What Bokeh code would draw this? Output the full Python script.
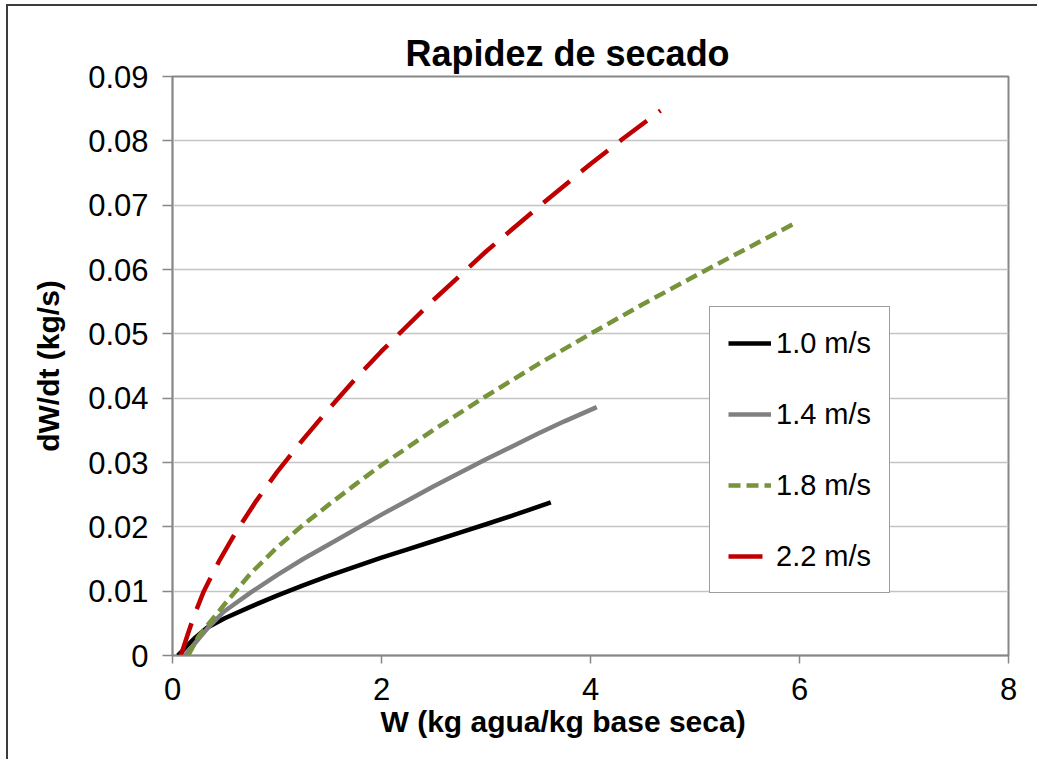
from bokeh.plotting import figure
from bokeh.models import FixedTicker, Title, Legend, LegendItem
from bokeh.embed import file_html
from bokeh.resources import INLINE

# Drying rate curves: moisture content W vs drying rate dW/dt, per air speed
w_10 = [0.05, 0.10, 0.15, 0.22, 0.33, 0.50, 0.75, 1.00, 1.25, 1.50, 1.75, 2.00,
        2.25, 2.50, 2.75, 3.00, 3.30, 3.62]
r_10 = [0.0, 0.0008, 0.0017, 0.0028, 0.0043, 0.0058, 0.0076, 0.0093, 0.0109, 0.0124,
        0.0138, 0.0152, 0.0165, 0.0178, 0.0191, 0.0204, 0.0220, 0.0238]

w_14 = [0.12, 0.18, 0.25, 0.35, 0.49, 0.75, 1.00, 1.25, 1.50, 1.75, 2.00, 2.25,
        2.50, 2.75, 3.00, 3.25, 3.50, 3.75, 4.06]
r_14 = [0.0, 0.0012, 0.0026, 0.0045, 0.0068, 0.0098, 0.0125, 0.0150, 0.0173, 0.0196,
        0.0219, 0.0241, 0.0263, 0.0284, 0.0305, 0.0325, 0.0345, 0.0364, 0.0386]

w_18 = [0.15, 0.25, 0.50, 0.75, 1.00, 1.25, 1.50, 1.75, 2.00, 2.50, 3.00, 3.50,
        4.00, 4.50, 5.00, 5.50, 5.98]
r_18 = [0.0, 0.0030, 0.0080, 0.0128, 0.0168, 0.0203, 0.0235, 0.0266, 0.0296, 0.0351,
        0.0403, 0.0453, 0.0500, 0.0546, 0.0590, 0.0633, 0.0674]

w_22 = [0.08, 0.14, 0.20, 0.30, 0.45, 0.60, 0.80, 1.00, 1.25, 1.50, 1.75, 2.00,
        2.50, 3.00, 3.50, 4.00, 4.30, 4.67]
r_22 = [0.0, 0.0030, 0.0059, 0.0100, 0.0148, 0.0190, 0.0240, 0.0285, 0.0336, 0.0384,
        0.0430, 0.0473, 0.0553, 0.0628, 0.0697, 0.0764, 0.0802, 0.0847]

series_labels = ["1.0 m/s", "1.4 m/s", "1.8 m/s", "2.2 m/s"]

x_ticks = [0, 2, 4, 6, 8]
y_ticks = [0, 0.01, 0.02, 0.03, 0.04, 0.05, 0.06, 0.07, 0.08, 0.09]
y_tick_labels = ["0", "0.01", "0.02", "0.03", "0.04", "0.05", "0.06", "0.07", "0.08", "0.09"]

FONT = "Liberation Sans"
GRID = "#c4c4c4"
EDGE = "#878787"

p = figure(
    width=1031, height=755,
    x_range=(0, 8), y_range=(0, 0.09),
    output_backend="svg", toolbar_location=None,
    min_border_left=164, min_border_right=31,
    min_border_top=70, min_border_bottom=106,
)
p.margin = (4, 0, 0, 6)
p.styles = {"border-left": "2px solid #3c3c3c", "border-top": "2px solid #3c3c3c"}

p.background_fill_color = "white"
p.border_fill_color = "white"
p.outline_line_color = EDGE
p.outline_line_width = 2

# title
p.title.text = "Rapidez de secado"
p.title.text_font = FONT
p.title.text_font_size = "36px"
p.title.text_font_style = "bold"
p.title.text_color = "black"
p.title.align = "left"
p.title.offset = 233
p.title.standoff = 6

# axes
p.xaxis.ticker = FixedTicker(ticks=x_ticks)
p.yaxis.ticker = FixedTicker(ticks=y_ticks)
p.yaxis.major_label_overrides = {t: s for t, s in zip(y_ticks, y_tick_labels)}
for ax in (p.xaxis[0], p.yaxis[0]):
    ax.axis_line_color = EDGE
    ax.axis_line_width = 1.5
    ax.major_tick_line_color = EDGE
    ax.major_tick_line_width = 1.5
    ax.major_tick_in = 0
    ax.minor_tick_line_color = None
    ax.major_label_text_font = FONT
    ax.major_label_text_font_size = "31px"
    ax.major_label_text_color = "black"
p.xaxis.major_tick_out = 8
p.yaxis.major_tick_out = 10
p.xaxis.major_label_standoff = 14
p.yaxis.major_label_standoff = 14

p.yaxis.axis_label = "dW/dt (kg/s)"
p.yaxis.axis_label_text_font = FONT
p.yaxis.axis_label_text_font_size = "30px"
p.yaxis.axis_label_text_font_style = "bold"
p.yaxis.axis_label_text_color = "black"
p.yaxis.axis_label_standoff = 20

xlabel = Title(text="W (kg agua/kg base seca)", align="left", offset=208,
               text_font=FONT, text_font_size="30px", text_font_style="bold",
               text_color="black", standoff=0)
p.add_layout(xlabel, "below")

p.xgrid.grid_line_color = None
p.ygrid.grid_line_color = GRID
p.ygrid.grid_line_width = 1.5

# curves
l10 = p.line(w_10, r_10, line_color="black", line_width=4.5)
l14 = p.line(w_14, r_14, line_color="#808080", line_width=4.5)
l18 = p.line(w_18, r_18, line_color="#77933c", line_width=4.5, line_dash="12 6")
l22 = p.line(w_22, r_22, line_color="#c00000", line_width=4.5, line_dash="34 15")

legend = Legend(
    items=[LegendItem(label=lab, renderers=[r]) for lab, r in
           zip(series_labels, [l10, l14, l18, l22])],
    location=(537, 62),
    padding=18, margin=0, spacing=35,
    glyph_width=43, glyph_height=36, label_height=36, label_standoff=5,
    label_text_font=FONT, label_text_font_size="29px", label_text_color="black",
    border_line_color="#3c3c3c", border_line_width=1.5,
    background_fill_color="white", background_fill_alpha=1.0,
)
p.add_layout(legend, "center")

open("out.html", "w").write(file_html(p, INLINE))
